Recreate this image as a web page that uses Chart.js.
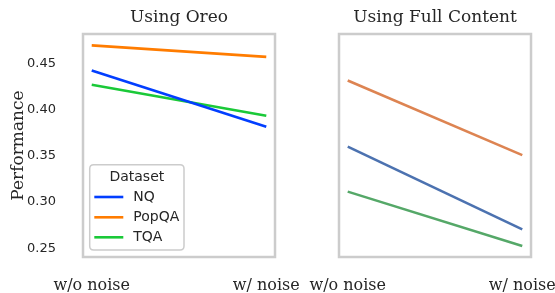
<!DOCTYPE html>
<html>
<head>
<meta charset="utf-8">
<script src="https://cdn.jsdelivr.net/npm/chart.js@4.4.1/dist/chart.umd.min.js"></script>
<style>
  html, body { margin: 0; padding: 0; background: #ffffff; }
  #wrap { position: relative; width: 555px; height: 293px; overflow: hidden; background: #fff; }
  canvas { position: absolute; top: 0; left: 0; }
</style>
</head>
<body>
<div id="wrap">
  <canvas id="c1" width="555" height="293"></canvas>
  <canvas id="c2" width="555" height="293"></canvas>
</div>
<script>
// ---- data ----
const xLabels = ['w/o noise', 'w/ noise'];
const seriesNames = ['NQ', 'PopQA', 'TQA'];
const yTicks = [0.25, 0.30, 0.35, 0.40, 0.45];
const panelTitles = ['Using Oreo', 'Using Full Content'];

const oreoNQ    = [0.4425, 0.3815];
const oreoPopQA = [0.4697, 0.4572];
const oreoTQA   = [0.4270, 0.3934];

const fullNQ    = [0.3600, 0.2704];
const fullPopQA = [0.4317, 0.3508];
const fullTQA   = [0.3113, 0.2525];

const brightColors = ['#023eff', '#ff7c00', '#1ac938'];
const deepColors   = ['#4c72b0', '#dd8452', '#55a868'];

const TXT = '#262626';
const SERIF = "'DejaVu Serif', serif";
const SANS = "'DejaVu Sans', sans-serif";

function toPts(arr) { return arr.map((v, i) => ({ x: i, y: v })); }

function makeDatasets(seriesArr, colors) {
  return seriesArr.map((s, i) => ({
    label: seriesNames[i],
    data: toPts(s),
    borderColor: colors[i],
    backgroundColor: colors[i],
    borderWidth: 2.6,
    pointRadius: 0,
    fill: false,
    tension: 0
  }));
}

const framePlugin = {
  id: 'frame',
  afterDatasetsDraw(chart) {
    const a = chart.chartArea, ctx = chart.ctx;
    ctx.save();
    ctx.strokeStyle = '#cccccc';
    ctx.lineWidth = 2.5;
    ctx.strokeRect(a.left, a.top, a.right - a.left, a.bottom - a.top);
    ctx.restore();
  }
};

const legendPlugin = {
  id: 'boxLegend',
  afterDraw(chart, args, opts) {
    if (!opts || !opts.show) return;
    const ctx = chart.ctx;
    const x0 = 89.7, y0 = 164.7, x1 = 184, y1 = 250, r = 4;
    ctx.save();
    ctx.beginPath();
    ctx.moveTo(x0 + r, y0);
    ctx.lineTo(x1 - r, y0); ctx.quadraticCurveTo(x1, y0, x1, y0 + r);
    ctx.lineTo(x1, y1 - r); ctx.quadraticCurveTo(x1, y1, x1 - r, y1);
    ctx.lineTo(x0 + r, y1); ctx.quadraticCurveTo(x0, y1, x0, y1 - r);
    ctx.lineTo(x0, y0 + r); ctx.quadraticCurveTo(x0, y0, x0 + r, y0);
    ctx.closePath();
    ctx.fillStyle = 'rgba(255,255,255,0.85)';
    ctx.fill();
    ctx.strokeStyle = '#cccccc';
    ctx.lineWidth = 1.5;
    ctx.stroke();

    ctx.fillStyle = TXT;
    ctx.font = '14px ' + SANS;
    ctx.textAlign = 'center';
    ctx.textBaseline = 'middle';
    ctx.fillText(opts.title, (x0 + x1) / 2, 177);

    const rows = [197, 217.3, 237.3];
    ctx.textAlign = 'left';
    chart.data.datasets.forEach((ds, i) => {
      ctx.strokeStyle = ds.borderColor;
      ctx.lineWidth = 2.6;
      ctx.beginPath();
      ctx.moveTo(94.3, rows[i]);
      ctx.lineTo(123.3, rows[i]);
      ctx.stroke();
      ctx.fillStyle = TXT;
      ctx.fillText(ds.label, 133.3, rows[i]);
    });
    ctx.restore();
  }
};

function baseOptions(title, showY, padLeft, padRight, legendOn) {
  return {
    responsive: false,
    animation: false,
    devicePixelRatio: 1,
    layout: { padding: { left: padLeft, right: padRight, top: 0, bottom: 0 } },
    plugins: {
      legend: { display: false },
      tooltip: { enabled: false },
      title: {
        display: true,
        text: title,
        fullSize: false,
        color: TXT,
        font: { family: SERIF, size: 17, weight: 'normal', lineHeight: 1.2 },
        padding: { top: 7, bottom: 6.6 }
      },
      boxLegend: { show: legendOn, title: 'Dataset' }
    },
    scales: {
      x: {
        type: 'linear',
        min: -0.05,
        max: 1.05,
        grid: { display: false },
        border: { display: false },
        afterBuildTicks: s => { s.ticks = xLabels.map((_, i) => ({ value: i })); },
        afterFit: s => { s.height = 36; s.paddingLeft = 0; s.paddingRight = 0; },
        ticks: {
          color: TXT,
          font: { family: SERIF, size: 16 },
          padding: 11,
          maxRotation: 0,
          autoSkip: false,
          callback: v => xLabels[v]
        }
      },
      y: {
        display: showY,
        min: 0.2405,
        max: 0.482,
        grid: { display: false },
        border: { display: false },
        afterBuildTicks: s => { s.ticks = yTicks.map(v => ({ value: v })); },
        afterFit: s => { if (showY) s.width = 83; },
        ticks: {
          color: TXT,
          font: { family: SANS, size: 13 },
          padding: 19,
          callback: v => Number(v).toFixed(2)
        },
        title: {
          display: showY,
          text: 'Performance',
          color: TXT,
          font: { family: SERIF, size: 17 },
          padding: { top: 8, bottom: 0 }
        }
      }
    }
  };
}

new Chart(document.getElementById('c1'), {
  type: 'line',
  data: { datasets: makeDatasets([oreoNQ, oreoPopQA, oreoTQA], brightColors) },
  options: baseOptions(panelTitles[0], true, 0, 280, true),
  plugins: [framePlugin, legendPlugin]
});

new Chart(document.getElementById('c2'), {
  type: 'line',
  data: { datasets: makeDatasets([fullNQ, fullPopQA, fullTQA], deepColors) },
  options: baseOptions(panelTitles[1], false, 339, 24, false),
  plugins: [framePlugin, legendPlugin]
});
</script>
</body>
</html>
